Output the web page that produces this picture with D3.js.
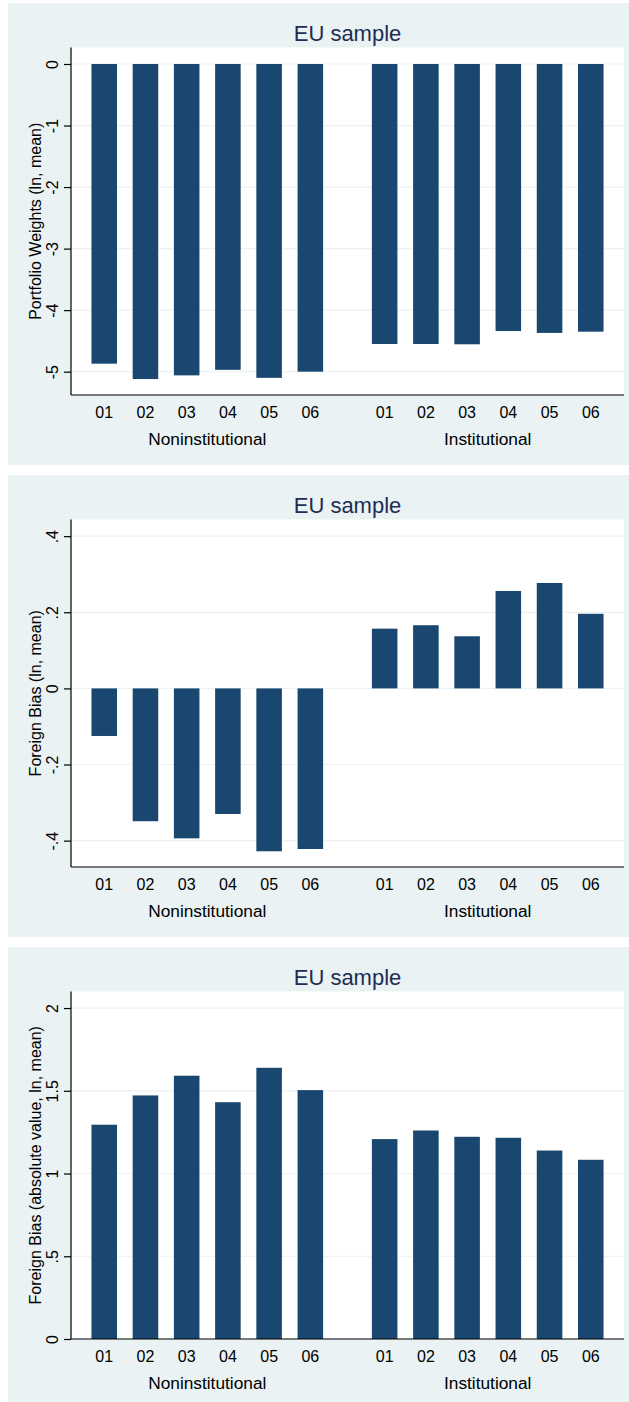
<!DOCTYPE html>
<html>
<head>
<meta charset="utf-8">
<script src="https://cdn.jsdelivr.net/npm/d3@7"></script>
<style>
  html, body { margin: 0; padding: 0; background: #ffffff; }
  svg { display: block; }
  text { font-family: "Liberation Sans", Arial, Helvetica, sans-serif; }
</style>
</head>
<body>
<script>
// Categories
const years = ["01", "02", "03", "04", "05", "06"];
const groups = ["Noninstitutional", "Institutional"];

// Portfolio weights (ln, mean)
const weightsNoninst = [-4.87, -5.12, -5.06, -4.97, -5.10, -5.00];
const weightsInst    = [-4.55, -4.55, -4.555, -4.34, -4.37, -4.35];

// Foreign bias (ln, mean)
const biasNoninst = [-0.125, -0.349, -0.394, -0.330, -0.428, -0.422];
const biasInst    = [0.157, 0.166, 0.137, 0.256, 0.277, 0.196];

// Foreign bias (absolute value, ln, mean)
const absBiasNoninst = [1.295, 1.472, 1.591, 1.431, 1.639, 1.504];
const absBiasInst    = [1.208, 1.260, 1.222, 1.216, 1.139, 1.083];

// Tick values
const weightTicks = [0, -1, -2, -3, -4, -5];
const biasTicks = [0.4, 0.2, 0, -0.2, -0.4];
const absBiasTicks = [0, 0.5, 1, 1.5, 2];

const panels = [
  { title: "EU sample", yTitle: "Portfolio Weights (ln, mean)",
    values: [weightsNoninst, weightsInst], ticks: weightTicks, domain: [-5.379, 0.268] },
  { title: "EU sample", yTitle: "Foreign Bias (ln, mean)",
    values: [biasNoninst, biasInst], ticks: biasTicks, domain: [-0.4693, 0.4438] },
  { title: "EU sample", yTitle: "Foreign Bias (absolute value, ln, mean)",
    values: [absBiasNoninst, absBiasInst], ticks: absBiasTicks, domain: [0, 2.1] }
];

const W = 629, H = 1402;
const panelTops = [3, 475, 947];
const panelH = 462;
const bgLeft = 8;
const plot = { left: 71, right: 624, top: 44.5, bottom: 392 };

const navy = "#1a476f";
const bgColor = "#eaf2f3";
const titleColor = "#1e2d53";

// Stata-style numbers: drop the leading zero (".4", "-.2")
const fmt = v => {
  if (v === 0) return "0";
  let s = String(+v.toFixed(2));
  return s.replace(/^(-?)0\./, "$1.");
};

const svg = d3.select("body").append("svg")
  .attr("width", W).attr("height", H);

const outer = d3.scaleBand().domain(groups)
  .range([plot.left, plot.right])
  .paddingInner(0.118).paddingOuter(0.045);
const inner = d3.scaleBand().domain(years)
  .range([0, outer.bandwidth()])
  .paddingInner(0.38).paddingOuter(0.19);

panels.forEach((p, i) => {
  const g = svg.append("g").attr("transform", `translate(0,${panelTops[i]})`);

  // outer background
  g.append("rect")
    .attr("x", bgLeft).attr("y", 0)
    .attr("width", W - bgLeft).attr("height", panelH)
    .attr("fill", bgColor);

  // plot region
  g.append("rect")
    .attr("x", plot.left).attr("y", plot.top)
    .attr("width", plot.right - plot.left).attr("height", plot.bottom - plot.top)
    .attr("fill", "#ffffff");

  const y = d3.scaleLinear().domain(p.domain).range([plot.bottom, plot.top]);

  // gridlines
  g.append("g").selectAll("line").data(p.ticks).join("line")
    .attr("x1", plot.left).attr("x2", plot.right)
    .attr("y1", d => y(d)).attr("y2", d => y(d))
    .attr("stroke", bgColor).attr("stroke-width", 1.2);

  // bars
  groups.forEach((grp, gi) => {
    const gg = g.append("g").attr("transform", `translate(${outer(grp)},0)`);
    gg.selectAll("rect").data(p.values[gi]).join("rect")
      .attr("x", (d, k) => inner(years[k]))
      .attr("width", inner.bandwidth())
      .attr("y", d => Math.min(y(d), y(0)))
      .attr("height", d => Math.abs(y(d) - y(0)))
      .attr("fill", navy);

    // year labels
    const xa = gg.append("g")
      .attr("transform", `translate(0,${plot.bottom})`)
      .call(d3.axisBottom(inner).tickSize(0).tickPadding(0));
    xa.select(".domain").remove();
    xa.selectAll("text")
      .attr("y", 22.5).attr("dy", 0)
      .attr("font-size", 16).attr("fill", "#000");

    // group label
    g.append("text")
      .attr("x", outer(grp) + outer.bandwidth() / 2)
      .attr("y", 441.5)
      .attr("text-anchor", "middle")
      .attr("font-size", 17.3)
      .attr("fill", "#000")
      .text(grp);
  });

  // x axis line
  g.append("line")
    .attr("x1", plot.left).attr("x2", plot.right)
    .attr("y1", plot.bottom).attr("y2", plot.bottom)
    .attr("stroke", "#000").attr("stroke-width", 1.2);

  // y axis
  const ya = g.append("g")
    .attr("transform", `translate(${plot.left},0)`)
    .call(d3.axisLeft(y).tickValues(p.ticks).tickFormat(fmt).tickSize(7).tickSizeOuter(0));
  ya.select(".domain")
    .attr("d", `M0,${plot.top}V${plot.bottom}`)
    .attr("stroke", "#000").attr("stroke-width", 1.2);
  ya.selectAll(".tick line").attr("stroke", "#000").attr("stroke-width", 1.2);
  ya.selectAll(".tick text")
    .attr("x", null).attr("dy", null)
    .attr("transform", "translate(-13,0) rotate(-90)")
    .attr("text-anchor", "middle")
    .attr("font-size", 16)
    .attr("fill", "#000");

  // y axis title
  g.append("text")
    .attr("transform", `translate(41,${(plot.top + plot.bottom) / 2}) rotate(-90)`)
    .attr("text-anchor", "middle")
    .attr("font-size", 16)
    .attr("fill", "#000")
    .text(p.yTitle);

  // panel title
  g.append("text")
    .attr("x", (plot.left + plot.right) / 2)
    .attr("y", 37.5)
    .attr("text-anchor", "middle")
    .attr("font-size", 22)
    .attr("fill", titleColor)
    .text(p.title);
});
</script>
</body>
</html>
